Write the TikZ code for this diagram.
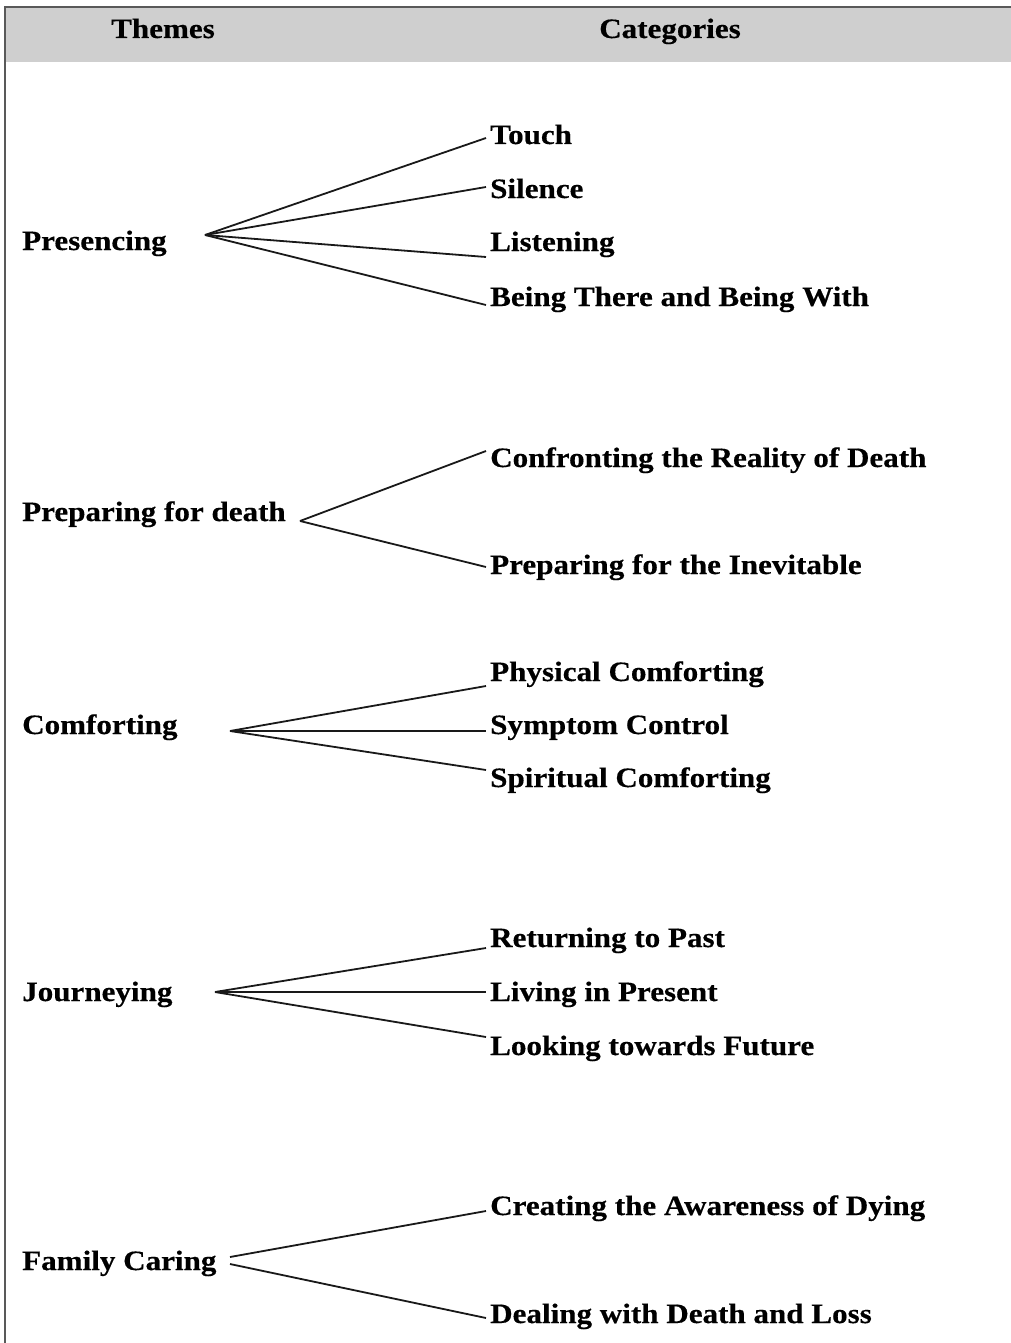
\documentclass[tikz,border=0pt]{standalone}
\usepackage{fontspec}
\setmainfont{Liberation Serif}[FakeStretch=1.11, FakeBold=0.4]
\begin{document}
\begin{tikzpicture}[x=1pt,y=-1pt,
  every node/.style={inner sep=0pt, font=\fontsize{28}{30}\selectfont\bfseries, text=black},
  theme/.style={anchor=base west},
  cat/.style={anchor=base west},
  link/.style={line width=1.8pt, black!90}]
\useasboundingbox (0,0) rectangle (1011,1343);
\fill[white] (0,0) rectangle (1011,1343);
\fill[gray!38] (5,7) rectangle (1011,62);
\draw[line width=2pt, black!65] (1011,7) -- (5,7) -- (5,1343);

% header
\node[anchor=base] (hthemes) at (163,38) {Themes};
\node[anchor=base] (hcats) at (670,38) {Categories};

% themes
\node[theme] (presencing) at (22,250) {Presencing};
\node[theme] (preparing) at (22,521) {Preparing for death};
\node[theme] (comforting) at (22,734) {Comforting};
\node[theme] (journeying) at (22,1001) {Journeying};
\node[theme] (family) at (22,1270) {Family Caring};

% categories
\node[cat] (touch) at (490,144) {Touch};
\node[cat] (silence) at (490,198) {Silence};
\node[cat] (listening) at (490,251) {Listening};
\node[cat] (being) at (490,306) {Being There and Being With};

\node[cat] (confront) at (490,467) {Confronting the Reality of Death};
\node[cat] (inevitable) at (490,574) {Preparing for the Inevitable};

\node[cat] (physical) at (490,681) {Physical Comforting};
\node[cat] (symptom) at (490,734) {Symptom Control};
\node[cat] (spiritual) at (490,787) {Spiritual Comforting};

\node[cat] (returning) at (490,947) {Returning to Past};
\node[cat] (living) at (490,1001) {Living in Present};
\node[cat] (looking) at (490,1055) {Looking towards Future};

\node[cat] (creating) at (490,1215) {Creating the Awareness of Dying};
\node[cat] (dealing) at (490,1323) {Dealing with Death and Loss};

% fan points
\coordinate (fpres) at (205,235);
\coordinate (fprep) at (300,521);
\coordinate (fcomf) at (230,731);
\coordinate (fjour) at (215,992);
\coordinate (ffamA) at (230,1257);
\coordinate (ffamB) at (230,1264);

% connectors
\draw[link] (fpres) -- ([shift={(-4pt,6pt)}]touch.base west);
\draw[link] (fpres) -- ([shift={(-4pt,11pt)}]silence.base west);
\draw[link] (fpres) -- ([shift={(-4pt,-6pt)}]listening.base west);
\draw[link] (fpres) -- ([shift={(-4pt,1pt)}]being.base west);

\draw[link] (fprep) -- ([shift={(-4pt,16pt)}]confront.base west);
\draw[link] (fprep) -- ([shift={(-4pt,7pt)}]inevitable.base west);

\draw[link] (fcomf) -- ([shift={(-4pt,-5pt)}]physical.base west);
\draw[link] (fcomf) -- ([shift={(-4pt,3pt)}]symptom.base west);
\draw[link] (fcomf) -- ([shift={(-4pt,17pt)}]spiritual.base west);

\draw[link] (fjour) -- ([shift={(-4pt,-1pt)}]returning.base west);
\draw[link] (fjour) -- ([shift={(-4pt,9pt)}]living.base west);
\draw[link] (fjour) -- ([shift={(-4pt,18pt)}]looking.base west);

\draw[link] (ffamA) -- ([shift={(-4pt,4pt)}]creating.base west);
\draw[link] (ffamB) -- ([shift={(-4pt,5pt)}]dealing.base west);
\end{tikzpicture}
\end{document}
